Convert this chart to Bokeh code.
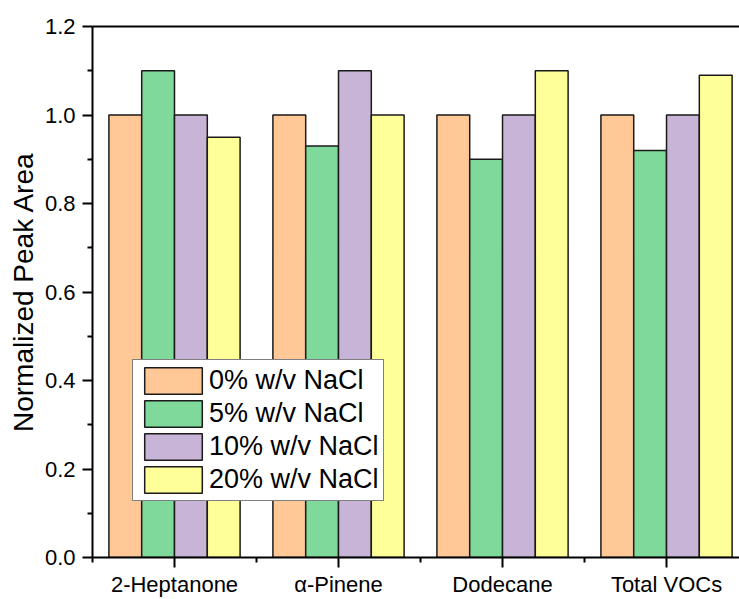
from bokeh.plotting import figure
from bokeh.models import (ColumnDataSource, Range1d, FixedTicker,
                          LinearAxis, Legend, LegendItem, NumeralTickFormatter)
from bokeh.transform import dodge
from bokeh.embed import file_html
from bokeh.resources import INLINE

# Normalized peak areas of each compound at four salt concentrations
compounds = ["2-Heptanone", "α-Pinene", "Dodecane", "Total VOCs"]
nacl_0 = [1.00, 1.00, 1.00, 1.00]
nacl_5 = [1.10, 0.93, 0.90, 0.92]
nacl_10 = [1.00, 1.10, 1.00, 1.00]
nacl_20 = [0.95, 1.00, 1.10, 1.09]
series_labels = ["0% w/v NaCl", "5% w/v NaCl", "10% w/v NaCl", "20% w/v NaCl"]
series_colors = ["#FFC896", "#7FD99B", "#C8B4D7", "#FFFF99"]
y_ticks = [0.0, 0.2, 0.4, 0.6, 0.8, 1.0, 1.2]

FONT = "Liberation Sans"

idx = list(range(len(compounds)))
source = ColumnDataSource(dict(idx=idx, s0=nacl_0, s5=nacl_5, s10=nacl_10, s20=nacl_20))

p = figure(width=739, height=599, output_backend="svg", toolbar_location=None,
           x_range=Range1d(-0.5, 3.445), y_range=Range1d(0, 1.2),
           min_border_left=92, min_border_right=0, min_border_top=26,
           min_border_bottom=41, background_fill_color="white",
           border_fill_color="white", outline_line_color=None)
p.xgrid.visible = False
p.ygrid.visible = False

bar_w = 0.2
offsets = [-0.3, -0.1, 0.1, 0.3]
fields = ["s0", "s5", "s10", "s20"]
renderers = []
for field, off, color in zip(fields, offsets, series_colors):
    r = p.vbar(x=dodge("idx", off, range=p.x_range), top=field, bottom=0, width=bar_w,
               source=source, fill_color=color, line_color="#1a1a1a", line_width=1.5)
    renderers.append(r)

# x axis: compound names under each group, minor ticks between groups
xa = p.xaxis[0]
xa.ticker = FixedTicker(ticks=idx, minor_ticks=[i - 0.5 for i in idx])
xa.major_label_overrides = {i: name for i, name in zip(idx, compounds)}
xa.axis_line_width = 2
xa.axis_line_color = "black"
xa.major_tick_out = 10
xa.major_tick_in = 0
xa.minor_tick_out = 5
xa.minor_tick_in = 0
xa.major_tick_line_width = 2
xa.minor_tick_line_width = 2
xa.major_label_standoff = 4
xa.major_label_text_font = FONT
xa.major_label_text_font_size = "22px"
xa.major_label_text_color = "black"

# y axis: major every 0.2, one minor tick between
ya = p.yaxis[0]
ya.ticker = FixedTicker(ticks=y_ticks,
                        minor_ticks=[(a + b) / 2 for a, b in zip(y_ticks[:-1], y_ticks[1:])])
ya.formatter = NumeralTickFormatter(format="0.0")
ya.axis_line_width = 2
ya.axis_line_color = "black"
ya.major_tick_out = 10
ya.major_tick_in = 0
ya.minor_tick_out = 5
ya.minor_tick_in = 0
ya.major_tick_line_width = 2
ya.minor_tick_line_width = 2
ya.major_label_standoff = 7
ya.major_label_text_font = FONT
ya.major_label_text_font_size = "22px"
ya.major_label_text_color = "black"
ya.axis_label = "Normalized Peak Area"
ya.axis_label_text_font = FONT
ya.axis_label_text_font_size = "28px"
ya.axis_label_text_font_style = "normal"
ya.axis_label_text_color = "black"
ya.axis_label_standoff = 3

# plain top border line
top = LinearAxis(ticker=FixedTicker(ticks=[]), major_label_text_font_size="0px",
                 axis_line_width=2, axis_line_color="black",
                 major_tick_line_color=None, minor_tick_line_color=None)
p.add_layout(top, "above")

legend = Legend(items=[LegendItem(label=lab, renderers=[r])
                       for lab, r in zip(series_labels, renderers)],
                location=(40, 56), orientation="vertical",
                glyph_width=72, glyph_height=33, spacing=0, padding=4,
                label_standoff=0, label_text_font=FONT, label_text_font_size="27px",
                label_text_color="black", border_line_color="black",
                border_line_width=1.5, background_fill_color="white",
                background_fill_alpha=1.0, margin=0)
p.add_layout(legend)

open("out.html", "w").write(file_html(p, INLINE))
